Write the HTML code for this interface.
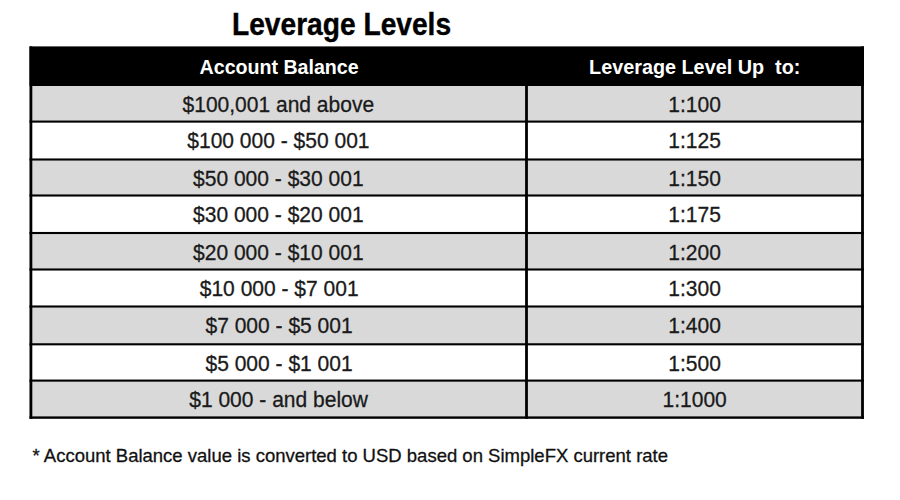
<!DOCTYPE html>
<html>
<head>
<meta charset="utf-8">
<style>
html,body{margin:0;padding:0;background:#fff;width:900px;height:500px;overflow:hidden;position:relative;font-family:"Liberation Sans",sans-serif;color:#111;}
svg{position:absolute;left:0;top:0;}
.t{position:absolute;line-height:1;white-space:pre;text-align:center;}
.t span{display:inline-block;transform-origin:50% 50%;}
.s span{-webkit-text-stroke:0.3px currentColor;}
</style>
</head>
<body>
<svg width="900" height="500" viewBox="0 0 900 500">
<rect x="29.5" y="46.4" width="834.5" height="39.6" fill="#000"/>
<rect x="29.5" y="86.0" width="834.5" height="35.60" fill="#d9d9d9"/>
<rect x="29.5" y="159.5" width="834.5" height="36.00" fill="#d9d9d9"/>
<rect x="29.5" y="233.0" width="834.5" height="36.50" fill="#d9d9d9"/>
<rect x="29.5" y="306.5" width="834.5" height="37.80" fill="#d9d9d9"/>
<rect x="29.5" y="380.6" width="834.5" height="37.00" fill="#d9d9d9"/>
<rect x="29.5" y="120.55" width="834.5" height="2.1" fill="#000"/>
<rect x="29.5" y="158.45" width="834.5" height="2.1" fill="#000"/>
<rect x="29.5" y="194.45" width="834.5" height="2.1" fill="#000"/>
<rect x="29.5" y="231.95" width="834.5" height="2.1" fill="#000"/>
<rect x="29.5" y="268.45" width="834.5" height="2.1" fill="#000"/>
<rect x="29.5" y="305.45" width="834.5" height="2.1" fill="#000"/>
<rect x="29.5" y="343.25" width="834.5" height="2.1" fill="#000"/>
<rect x="29.5" y="379.55" width="834.5" height="2.1" fill="#000"/>
<rect x="29.5" y="416.40" width="834.5" height="2.4" fill="#000"/>
<rect x="29.50" y="46.4" width="2.8" height="372.40" fill="#000"/>
<rect x="525.10" y="85.0" width="2.8" height="333.80" fill="#000"/>
<rect x="861.10" y="46.4" width="2.8" height="372.40" fill="#000"/>
</svg>
<div class="t" style="left:41.30px;width:600px;top:7.91px;font-size:32px;font-weight:700;color:#000;-webkit-text-stroke:0.4px #000;"><span style="transform:scaleX(0.88)">Leverage Levels</span></div>
<div class="t" style="left:-21.10px;width:600px;top:56.87px;font-size:20px;font-weight:700;color:#fff;"><span style="transform:scaleX(0.98)">Account Balance</span></div>
<div class="t" style="left:394.50px;width:600px;top:56.87px;font-size:20px;font-weight:700;color:#fff;"><span style="transform:scaleX(0.99)">Leverage Level Up&nbsp; to:</span></div>
<div class="t s" style="left:-21.30px;width:600px;top:93.88px;font-size:22px;font-weight:400;color:#1a1a1a;"><span style="transform:scaleX(0.955)">$100,001 and above</span></div>
<div class="t s" style="left:394.50px;width:600px;top:93.88px;font-size:22px;font-weight:400;color:#1a1a1a;"><span style="transform:scaleX(0.955)">1:100</span></div>
<div class="t s" style="left:-21.30px;width:600px;top:130.08px;font-size:22px;font-weight:400;color:#1a1a1a;"><span style="transform:scaleX(0.955)">$100 000 - $50 001</span></div>
<div class="t s" style="left:394.50px;width:600px;top:130.08px;font-size:22px;font-weight:400;color:#1a1a1a;"><span style="transform:scaleX(0.955)">1:125</span></div>
<div class="t s" style="left:-21.30px;width:600px;top:168.08px;font-size:22px;font-weight:400;color:#1a1a1a;"><span style="transform:scaleX(0.955)">$50 000 - $30 001</span></div>
<div class="t s" style="left:394.50px;width:600px;top:168.08px;font-size:22px;font-weight:400;color:#1a1a1a;"><span style="transform:scaleX(0.955)">1:150</span></div>
<div class="t s" style="left:-21.30px;width:600px;top:203.88px;font-size:22px;font-weight:400;color:#1a1a1a;"><span style="transform:scaleX(0.955)">$30 000 - $20 001</span></div>
<div class="t s" style="left:394.50px;width:600px;top:203.88px;font-size:22px;font-weight:400;color:#1a1a1a;"><span style="transform:scaleX(0.955)">1:175</span></div>
<div class="t s" style="left:-21.30px;width:600px;top:242.08px;font-size:22px;font-weight:400;color:#1a1a1a;"><span style="transform:scaleX(0.955)">$20 000 - $10 001</span></div>
<div class="t s" style="left:394.50px;width:600px;top:242.08px;font-size:22px;font-weight:400;color:#1a1a1a;"><span style="transform:scaleX(0.955)">1:200</span></div>
<div class="t s" style="left:-21.30px;width:600px;top:277.88px;font-size:22px;font-weight:400;color:#1a1a1a;"><span style="transform:scaleX(0.955)">$10 000 - $7 001</span></div>
<div class="t s" style="left:394.50px;width:600px;top:277.88px;font-size:22px;font-weight:400;color:#1a1a1a;"><span style="transform:scaleX(0.955)">1:300</span></div>
<div class="t s" style="left:-21.30px;width:600px;top:315.08px;font-size:22px;font-weight:400;color:#1a1a1a;"><span style="transform:scaleX(0.955)">$7 000 - $5 001</span></div>
<div class="t s" style="left:394.50px;width:600px;top:315.08px;font-size:22px;font-weight:400;color:#1a1a1a;"><span style="transform:scaleX(0.955)">1:400</span></div>
<div class="t s" style="left:-21.30px;width:600px;top:352.58px;font-size:22px;font-weight:400;color:#1a1a1a;"><span style="transform:scaleX(0.955)">$5 000 - $1 001</span></div>
<div class="t s" style="left:394.50px;width:600px;top:352.58px;font-size:22px;font-weight:400;color:#1a1a1a;"><span style="transform:scaleX(0.955)">1:500</span></div>
<div class="t s" style="left:-21.30px;width:600px;top:388.78px;font-size:22px;font-weight:400;color:#1a1a1a;"><span style="transform:scaleX(0.955)">$1 000 - and below</span></div>
<div class="t s" style="left:394.50px;width:600px;top:388.78px;font-size:22px;font-weight:400;color:#1a1a1a;"><span style="transform:scaleX(0.955)">1:1000</span></div>
<div class="t s" style="left:32.5px;top:446.84px;font-size:18.5px;text-align:left;color:#111"><span style="transform:scaleX(1.0);transform-origin:0 0">* Account Balance value is converted to USD based on SimpleFX current rate</span></div>
</body>
</html>
